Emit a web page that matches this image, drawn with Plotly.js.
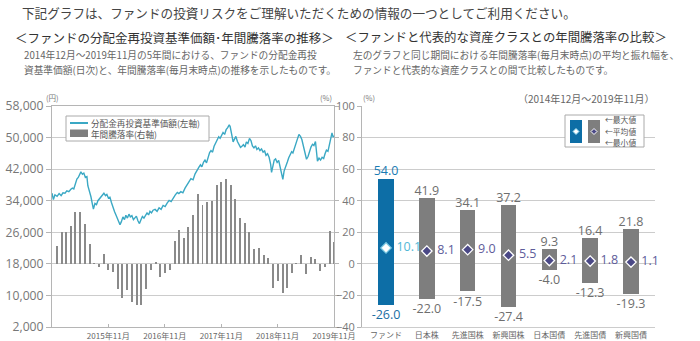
<!DOCTYPE html>
<html><head><meta charset="utf-8">
<script src="https://cdn.plot.ly/plotly-3.0.1.min.js"></script>
<style>html,body{margin:0;padding:0;background:#fff;}#chart{width:700px;height:341px;}</style>
</head><body><div id="chart"></div>
<script>
// ---- Data ----
const navDates = [
'2014-12-01','2014-12-10','2014-12-20','2015-01-03','2015-01-16','2015-01-29','2015-02-10','2015-02-23','2015-03-07','2015-03-20',
'2015-04-02','2015-04-12','2015-04-21','2015-05-01','2015-05-11','2015-05-20','2015-05-30','2015-06-06','2015-06-16','2015-06-25',
'2015-07-05','2015-07-15','2015-07-21','2015-07-31','2015-08-10','2015-08-19','2015-08-26','2015-09-05','2015-09-15','2015-09-24',
'2015-10-04','2015-10-14','2015-10-23','2015-11-02','2015-11-12','2015-11-21','2015-12-01','2015-12-11','2015-12-20','2015-12-30',
'2016-01-10','2016-01-19','2016-01-29','2016-02-08','2016-02-14','2016-02-23','2016-03-04','2016-03-14','2016-03-23','2016-04-02',
'2016-04-12','2016-04-21','2016-05-01','2016-05-11','2016-05-20','2016-05-30','2016-06-09','2016-06-19','2016-06-28','2016-07-08',
'2016-07-18','2016-07-28','2016-08-07','2016-08-17','2016-08-26','2016-09-05','2016-09-15','2016-09-28','2016-10-11','2016-10-24',
'2016-11-06','2016-11-19','2016-12-02','2016-12-15','2016-12-28','2017-01-10','2017-01-23','2017-02-06','2017-02-19','2017-03-01',
'2017-03-14','2017-03-27','2017-04-10','2017-04-22','2017-05-05','2017-05-18','2017-06-01','2017-06-14','2017-06-26','2017-07-09',
'2017-07-19','2017-07-28','2017-08-08','2017-08-17','2017-08-27','2017-09-06','2017-09-16','2017-09-25','2017-10-05','2017-10-15',
'2017-10-25','2017-11-04','2017-11-14','2017-11-23','2017-12-03','2017-12-12','2017-12-22','2018-01-01','2018-01-11','2018-01-21',
'2018-01-27','2018-02-03','2018-02-09','2018-02-15','2018-02-24','2018-03-05','2018-03-15','2018-03-25','2018-04-04','2018-04-13',
'2018-04-23','2018-05-03','2018-05-12','2018-05-22','2018-06-01','2018-06-11','2018-06-20','2018-06-30','2018-07-10','2018-07-19',
'2018-07-29','2018-08-08','2018-08-18','2018-08-28','2018-09-07','2018-09-16','2018-09-26','2018-10-06','2018-10-16','2018-10-22',
'2018-10-29','2018-11-08','2018-11-17','2018-11-27','2018-12-07','2018-12-16','2018-12-26','2019-01-03','2019-01-11','2019-01-21',
'2019-02-01','2019-02-10','2019-02-19','2019-03-01','2019-03-09','2019-03-19','2019-03-28','2019-04-07','2019-04-17','2019-04-27',
'2019-05-06','2019-05-16','2019-05-26','2019-06-05','2019-06-15','2019-06-24','2019-07-04','2019-07-14','2019-07-23','2019-08-02',
'2019-08-09','2019-08-15','2019-08-25','2019-09-04','2019-09-14','2019-09-24','2019-10-03','2019-10-12','2019-10-22','2019-11-01',
'2019-11-11','2019-11-17','2019-11-24','2019-11-29'];
const navValues = [
35900,34300,35500,35100,35800,35300,36000,35900,36500,36300,
36900,37200,37000,38600,39500,39900,40800,41300,40700,41000,
39900,40100,37800,36600,35000,33200,31900,33300,33000,34000,
34500,35000,35600,35900,35300,35600,34700,34900,33600,32200,
31200,30400,29500,28500,27900,28700,29900,29200,30300,29600,
30600,29900,30200,29200,29700,30100,28900,28200,29100,30000,
29600,30400,30900,30400,31300,30900,31600,31800,31300,32200,
31800,32800,32500,33400,34100,33800,34700,35500,36100,35800,
36300,36000,37200,38100,38800,39600,39300,40800,41800,42500,
43100,42600,43800,44300,43600,44900,46200,46700,46300,47800,
48600,49400,50200,49800,50700,51300,50800,52000,52500,53200,
52800,51700,50200,48900,49500,50300,49000,48300,47500,47800,
48200,47600,48900,48500,49800,49200,47900,47400,47900,47000,
47400,46700,47100,46300,46600,45500,45900,45000,43200,41200,
42300,44300,44600,43700,44200,42600,40800,39400,41500,42900,
43800,44900,45500,46400,46100,47500,48700,49600,50800,50300,
49500,48000,46100,44500,45200,46700,47600,48300,48000,49000,
46400,44000,44800,44300,45000,44700,45900,46800,46500,48500,
50600,51200,50100,50500];

const returnMonths = [
'2014-12','2015-01','2015-02','2015-03','2015-04','2015-05','2015-06','2015-07','2015-08','2015-09','2015-10','2015-11',
'2015-12','2016-01','2016-02','2016-03','2016-04','2016-05','2016-06','2016-07','2016-08','2016-09','2016-10','2016-11',
'2016-12','2017-01','2017-02','2017-03','2017-04','2017-05','2017-06','2017-07','2017-08','2017-09','2017-10','2017-11',
'2017-12','2018-01','2018-02','2018-03','2018-04','2018-05','2018-06','2018-07','2018-08','2018-09','2018-10','2018-11',
'2018-12','2019-01','2019-02','2019-03','2019-04','2019-05','2019-06','2019-07','2019-08','2019-09','2019-10','2019-11'];
const returnValues = [
11.2,19.9,19.9,23.7,32.8,32.8,25.0,12.7,0.4,-2.1,6.1,-3.8,
-5.3,-15.9,-21.8,-16.3,-23.9,-26.0,-25.8,-15.9,-4.0,1.1,-8.5,-5.7,
-3.6,14.4,21.6,16.5,23.3,30.7,44.0,37.0,39.3,40.0,49.7,51.6,
54.0,49.7,41.3,29.1,26.0,20.1,9.5,9.9,5.9,3.8,-15.4,-10.6,
-18.2,-15.4,-5.7,0.3,5.3,-6.3,4.2,2.8,-4.7,-1.7,20.7,13.8];

const yearTickVals = ['2015-11-30','2016-11-30','2017-11-30','2018-11-30','2019-11-30'];
const yearTickText = ['2015年11月','2016年11月','2017年11月','2018年11月','2019年11月'];

const assetClasses = ['ファンド','日本株','先進国株','新興国株','日本国債','先進国債','新興国債'];
const maxVals = [54.0,41.9,34.1,37.2,9.3,16.4,21.8];
const avgVals = [10.1,8.1,9.0,5.5,2.1,1.8,1.1];
const minVals = [-26.0,-22.0,-17.5,-27.4,-4.0,-12.3,-19.3];

// ---- Styles ----
const CJK = '"Noto Sans CJK JP", "Noto Sans", sans-serif';
const NUM = '"Open Sans", "Noto Sans", sans-serif';
const W = 700, H = 341;
const px = x => x / W, py = y => 1 - y / H;
const gridC = '#cccccc', axisC = '#b5b5b5';
const fundBlue = '#0d6ea6', barGray = '#7e7e7e';

const isFund = assetClasses.map((c, i) => i === 0);

const traces = [
  { type: 'bar', x: returnMonths, y: returnValues, xperiod: 'M1', xperiodalignment: 'end',
    width: 1.1e9, marker: { color: '#8a8a8a' }, xaxis: 'x', yaxis: 'y', hoverinfo: 'skip' },
  { type: 'scatter', mode: 'lines', x: navDates, y: navValues, line: { color: '#3aa8c4', width: 1.4 },
    xaxis: 'x', yaxis: 'y2', hoverinfo: 'skip' },
  { type: 'bar', x: assetClasses, y: maxVals.map((m, i) => m - minVals[i]), base: minVals, width: 0.38,
    marker: { color: isFund.map(f => f ? fundBlue : barGray) }, xaxis: 'x2', yaxis: 'y3', hoverinfo: 'skip' },
  { type: 'scatter', mode: 'text', x: assetClasses, y: maxVals, text: maxVals.map(v => v.toFixed(1)),
    textposition: 'top center', textfont: { family: NUM, size: 12.5, color: isFund.map(f => f ? '#1a7bb3' : '#6e6e6e') },
    xaxis: 'x2', yaxis: 'y3', hoverinfo: 'skip', cliponaxis: false },
  { type: 'scatter', mode: 'markers+text', x: assetClasses, y: minVals, text: minVals.map(v => v.toFixed(1)),
    marker: { size: 6, color: 'rgba(0,0,0,0)' },
    textposition: 'bottom center', textfont: { family: NUM, size: 12.5, color: isFund.map(f => f ? '#1a6ea3' : '#6e6e6e') },
    xaxis: 'x2', yaxis: 'y3', hoverinfo: 'skip', cliponaxis: false },
  { type: 'scatter', mode: 'markers+text', x: assetClasses, y: avgVals, text: avgVals.map(v => v.toFixed(1)),
    marker: { size: 15, color: 'rgba(0,0,0,0)' },
    textposition: 'middle right', textfont: { family: NUM, size: 12.5, color: isFund.map(f => f ? '#52b8d6' : '#5e5c9a') },
    xaxis: 'x2', yaxis: 'y3', hoverinfo: 'skip', cliponaxis: false },
  { type: 'scatter', mode: 'markers', x: assetClasses, y: avgVals,
    marker: { symbol: 'diamond', size: 8, color: isFund.map(f => f ? '#ffffff' : '#4a4886'),
      line: { width: 1.3, color: isFund.map(f => f ? '#7fcbe4' : '#ffffff') } },
    xaxis: 'x2', yaxis: 'y3', hoverinfo: 'skip' }
];

const annotations = [];
function txt(t, x, y, size, color, anchor, family) {
  annotations.push({ xref: 'paper', yref: 'paper', x: px(x), y: py(y), text: t, showarrow: false,
    xanchor: anchor || 'left', yanchor: 'middle', borderpad: 0,
    font: { family: family || CJK, size: size, color: color } });
}
txt('下記グラフは、ファンドの投資リスクをご理解いただくための情報の一つとしてご利用ください。', 21, 13, 12.6, '#444');
txt('＜ファンドの分配金再投資基準価額･年間騰落率の推移＞', 14, 37, 12.5, '#333');
txt('＜ファンドと代表的な資産クラスとの年間騰落率の比較＞', 344, 37, 12.4, '#333');
txt('2014年12月～2019年11月の5年間における、ファンドの分配金再投', 23, 55, 9.7, '#666');
txt('資基準価額(日次)と、年間騰落率(毎月末時点)の推移を示したものです。', 23, 70, 9.7, '#666');
txt('左のグラフと同じ期間における年間騰落率(毎月末時点)の平均と振れ幅を、', 352, 55, 9.7, '#666');
txt('ファンドと代表的な資産クラスとの間で比較したものです。', 352, 70, 9.7, '#666');
txt('(円)', 45, 98, 7.5, '#777');
txt('(%)', 333, 98, 7.5, '#777', 'right');
txt('(%)', 362, 98, 7.5, '#777');
txt('（2014年12月～2019年11月）', 656, 99, 10, '#666', 'right');
txt('分配金再投資基準価額(左軸)', 90, 123, 8.6, '#555');
txt('年間騰落率(右軸)', 90, 134, 8.6, '#555');
txt('←最大値', 604, 119.5, 7.8, '#555');
txt('←平均値', 604, 131, 7.8, '#555');
txt('←最小値', 604, 142.5, 7.8, '#555');

function diamondPath(cx, cy, r) {
  return 'M ' + px(cx) + ' ' + py(cy - r) + ' L ' + px(cx + r) + ' ' + py(cy) + ' L ' + px(cx) + ' ' + py(cy + r) +
    ' L ' + px(cx - r) + ' ' + py(cy) + ' Z';
}
const shapes = [
  { type: 'rect', xref: 'paper', yref: 'paper', x0: px(66), x1: px(209), y0: py(116), y1: py(141),
    line: { color: '#aaaaaa', width: 1 }, fillcolor: '#ffffff' },
  { type: 'line', xref: 'paper', yref: 'paper', x0: px(70), x1: px(88), y0: py(123), y1: py(123),
    line: { color: '#3aa8c4', width: 2 } },
  { type: 'rect', xref: 'paper', yref: 'paper', x0: px(70), x1: px(88), y0: py(129.5), y1: py(137),
    line: { width: 0 }, fillcolor: '#7e7e7e' },
  { type: 'rect', xref: 'paper', yref: 'paper', x0: px(565), x1: px(644), y0: py(115), y1: py(147),
    line: { color: '#aaaaaa', width: 1 }, fillcolor: '#ffffff' },
  { type: 'rect', xref: 'paper', yref: 'paper', x0: px(570), x1: px(582), y0: py(120), y1: py(143),
    line: { width: 0 }, fillcolor: fundBlue },
  { type: 'rect', xref: 'paper', yref: 'paper', x0: px(588), x1: px(600), y0: py(120), y1: py(143),
    line: { width: 0 }, fillcolor: barGray },
  { type: 'path', xref: 'paper', yref: 'paper', path: diamondPath(576, 131.5, 3),
    line: { color: '#8fd3ea', width: 1 }, fillcolor: '#ffffff' },
  { type: 'path', xref: 'paper', yref: 'paper', path: diamondPath(594, 131.5, 3),
    line: { color: '#ffffff', width: 1 }, fillcolor: '#4a4886' }
];

const yDom = [14 / H, 235 / H];
const layout = {
  width: W, height: H, margin: { l: 0, r: 0, t: 0, b: 0 },
  paper_bgcolor: '#ffffff', plot_bgcolor: 'rgba(0,0,0,0)', showlegend: false, bargap: 0,
  xaxis: { type: 'date', domain: [52 / W, 334 / W], anchor: 'y', range: ['2014-12-01', '2019-11-30'],
    tickvals: yearTickVals, ticktext: yearTickText, tickfont: { family: CJK, size: 8.1, color: '#666' },
    ticklabelstandoff: 1,
    showgrid: false, showline: true, mirror: true, linecolor: axisC, linewidth: 1,
    ticks: 'inside', ticklen: 3, tickcolor: axisC, zeroline: false, fixedrange: true },
  yaxis: { domain: yDom, anchor: 'x', side: 'right', range: [-40, 100], dtick: 20,
    showticklabels: false, showgrid: false, zeroline: false, showline: true, linecolor: axisC,
    ticks: 'outside', ticklen: 4, tickcolor: axisC, fixedrange: true },
  yaxis2: { overlaying: 'y', side: 'left', anchor: 'x', range: [2000, 58000], dtick: 8000, tick0: 2000,
    tickformat: ',d', tickfont: { family: NUM, size: 12.2, color: '#777' }, showgrid: true, gridcolor: gridC,
    gridwidth: 1, zeroline: false, showline: true, linecolor: axisC, ticks: 'outside', ticklen: 5,
    tickcolor: axisC, fixedrange: true },
  xaxis2: { type: 'category', domain: [362 / W, 655 / W], anchor: 'y3', showgrid: false, showline: true,
    linecolor: gridC, ticks: '', tickfont: { family: CJK, size: 8, color: '#666' }, zeroline: false, fixedrange: true },
  yaxis3: { domain: yDom, anchor: 'x2', range: [-40, 100], dtick: 20, tickfont: { family: NUM, size: 11, color: '#777' },
    showgrid: true, gridcolor: gridC, zeroline: false, showline: true, linecolor: axisC,
    ticks: 'outside', ticklen: 4, tickcolor: axisC, fixedrange: true },
  annotations: annotations, shapes: shapes
};

Plotly.newPlot('chart', traces, layout, { displayModeBar: false, staticPlot: true });
</script></body></html>
